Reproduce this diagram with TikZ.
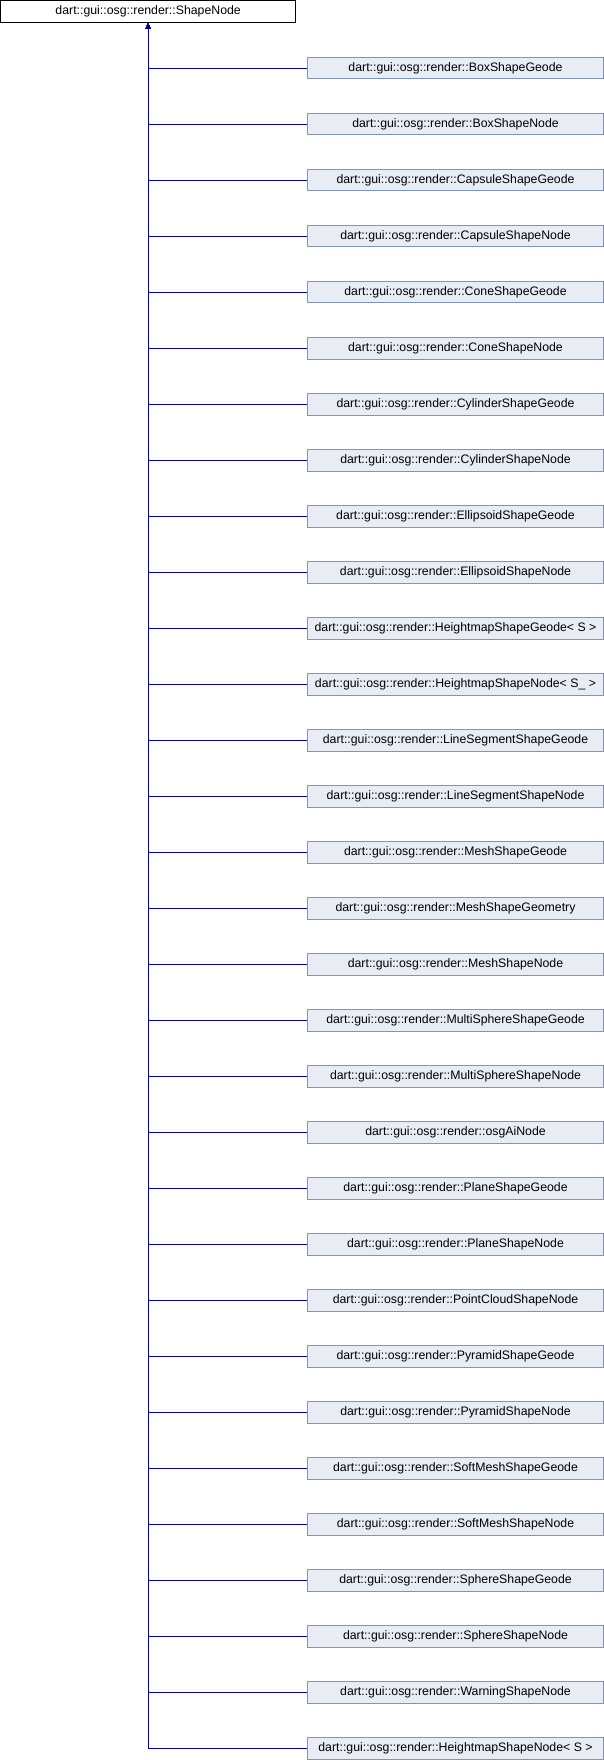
\documentclass[tikz,border=0pt]{standalone}
\usepackage{fontspec}
\setmainfont{Liberation Sans}
\usetikzlibrary{arrows.meta}
\definecolor{edgeblue}{RGB}{0,0,163}
\definecolor{boxborder}{RGB}{125,147,199}
\definecolor{boxfill}{RGB}{232,236,245}
\begin{document}
\begin{tikzpicture}[x=1pt,y=-1pt,
  basebox/.style={draw=black, line width=1pt, fill=white, minimum width=295.3pt, minimum height=22.3pt, inner sep=0pt, font=\fontsize{12.3}{14}\selectfont},
  childbox/.style={draw=boxborder, line width=1pt, fill=boxfill, minimum width=295.4pt, minimum height=21.6pt, inner sep=0pt, font=\fontsize{12.3}{14}\selectfont},
  edge/.style={draw=edgeblue, line width=1pt, -{Triangle[width=5pt,length=5.5pt]}}]
\useasboundingbox (0,0) rectangle (604,1760);
\node[basebox] (base) at (148.15,11.65) {dart::gui::osg::render::ShapeNode};
\foreach \nm [count=\i] in {
  BoxShapeGeode, BoxShapeNode, CapsuleShapeGeode, CapsuleShapeNode,
  ConeShapeGeode, ConeShapeNode, CylinderShapeGeode, CylinderShapeNode,
  EllipsoidShapeGeode, EllipsoidShapeNode, HeightmapShapeGeode< S >,
  HeightmapShapeNode< S\_ >, LineSegmentShapeGeode, LineSegmentShapeNode,
  MeshShapeGeode, MeshShapeGeometry, MeshShapeNode, MultiSphereShapeGeode,
  MultiSphereShapeNode, osgAiNode, PlaneShapeGeode, PlaneShapeNode,
  PointCloudShapeNode, PyramidShapeGeode, PyramidShapeNode,
  SoftMeshShapeGeode, SoftMeshShapeNode, SphereShapeGeode, SphereShapeNode,
  WarningShapeNode, HeightmapShapeNode< S >} {
  \pgfmathsetmacro{\yy}{68.2+56*(\i-1)}
  \node[childbox] (c\i) at (455.5,\yy) {dart::gui::osg::render::\nm};
}
\foreach \i in {1,...,31} {
  \draw[edge] (c\i.west) -| (base.south);
}
\end{tikzpicture}
\end{document}
